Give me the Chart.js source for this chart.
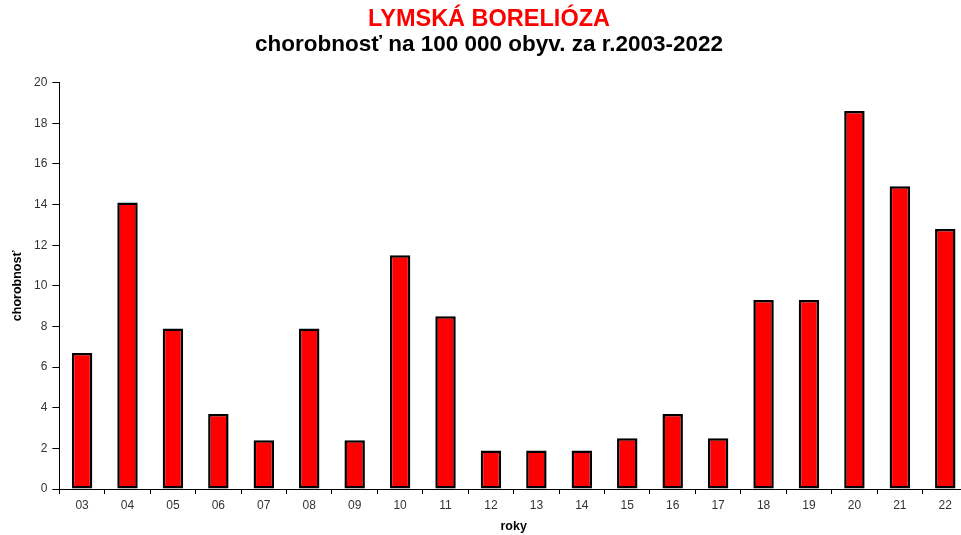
<!DOCTYPE html>
<html><head><meta charset="utf-8">
<script src="https://cdn.jsdelivr.net/npm/chart.js@4/dist/chart.umd.min.js"></script>
<style>html,body{margin:0;padding:0;background:#fff;overflow:hidden}#c{display:block}</style>
</head><body>
<canvas id="c" width="968" height="535"></canvas>
<script>
const categories = ["03","04","05","06","07","08","09","10","11","12","13","14","15","16","17","18","19","20","21","22"];
const values = [6.7,14.1,7.9,3.7,2.4,7.9,2.4,11.5,8.5,1.9,1.9,1.9,2.5,3.7,2.5,9.3,9.3,18.6,14.9,12.8];
const titleText = "LYMSKÁ BORELIÓZA";
const subtitleText = "chorobnosť na 100 000 obyv. za r.2003-2022";
const yTitle = "chorobnosť";
const xTitle = "roky";

const F = "'Liberation Sans', Arial, sans-serif";
new Chart(document.getElementById('c'), {
  type: 'bar',
  data: { labels: categories, datasets: [{ data: values, backgroundColor: '#ff0000', borderColor: '#000', borderWidth: 2.5, borderSkipped: false, barPercentage: 0.45, categoryPercentage: 1 }] },
  options: {
    responsive: false, animation: false,
    layout: { padding: { left: 10, right: 0, top: 0, bottom: 2 } },
    plugins: {
      legend: { display: false }, tooltip: { enabled: false },
      title: { display: true, text: titleText, color: '#ff0000', font: { family: F, size: 23.5, weight: 'bold', lineHeight: 1.1 }, padding: { top: 7, bottom: 0 } },
      subtitle: { display: true, text: subtitleText, color: '#000', font: { family: F, size: 22.5, weight: 'bold', lineHeight: 1.1 }, padding: { top: 0, bottom: 25 } }
    },
    scales: {
      x: {
        grid: { display: true, drawOnChartArea: false, color: '#000', tickLength: 5, offset: true },
        border: { color: '#000', width: 1 },
        ticks: { color: '#333', font: { family: F, size: 12 }, padding: 4, maxRotation: 0, autoSkip: false },
        title: { display: true, text: xTitle, color: '#000', font: { family: F, size: 12.5, weight: 'bold', lineHeight: 1.0 }, padding: { top: 4, bottom: 0 } }
      },
      y: {
        min: 0, max: 20,
        grid: { display: true, drawOnChartArea: false, color: '#000', tickLength: 7 },
        border: { color: '#000', width: 1 },
        ticks: { stepSize: 2, color: '#333', font: { family: F, size: 12 }, padding: 5 },
        title: { display: true, text: yTitle, color: '#000', font: { family: F, size: 12.5, weight: 'bold' }, padding: { top: 0, bottom: 4 } }
      }
    }
  }
});
</script>
</body></html>
